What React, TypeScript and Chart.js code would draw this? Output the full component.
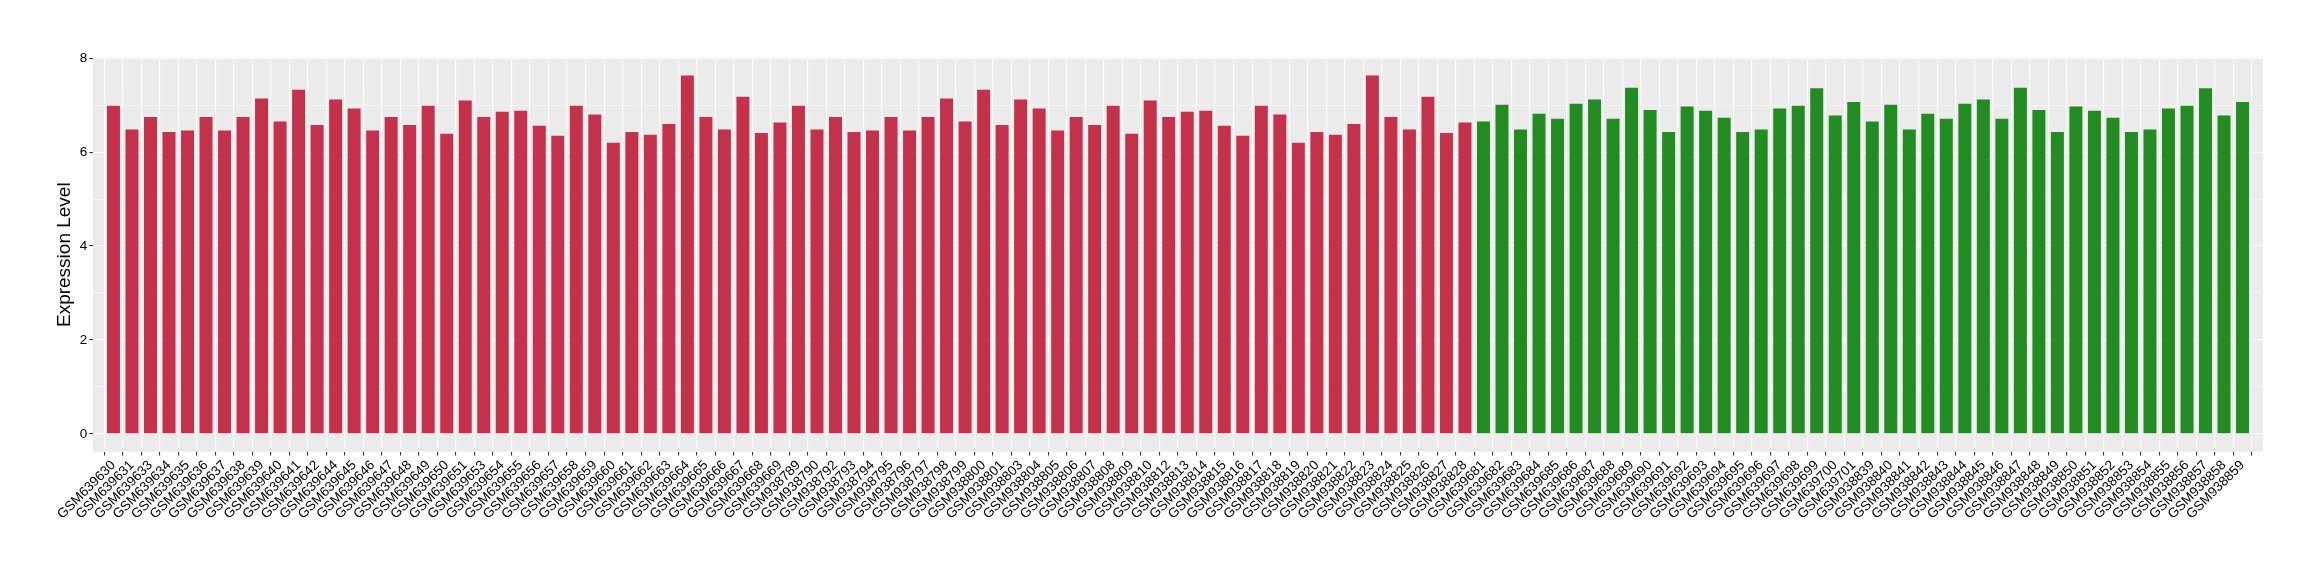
import React, { useEffect, useRef } from "react";
import { Chart, registerables } from "chart.js";

Chart.register(...registerables);

// ---- Data ----
const redSamplesA = [
  "GSM639630", "GSM639631", "GSM639633", "GSM639634", "GSM639635", "GSM639636", "GSM639637", "GSM639638",
  "GSM639639", "GSM639640", "GSM639641", "GSM639642", "GSM639644", "GSM639645", "GSM639646", "GSM639647",
  "GSM639648", "GSM639649", "GSM639650", "GSM639651", "GSM639653", "GSM639654", "GSM639655", "GSM639656",
  "GSM639657", "GSM639658", "GSM639659", "GSM639660", "GSM639661", "GSM639662", "GSM639663", "GSM639664",
  "GSM639665", "GSM639666", "GSM639667", "GSM639668", "GSM639669",
];
const redValuesA = [
  6.99, 6.48, 6.75, 6.43, 6.46, 6.75, 6.46, 6.75, 7.14, 6.65,
  7.33, 6.58, 7.12, 6.93, 6.46, 6.75, 6.58, 6.99, 6.39, 7.10,
  6.75, 6.86, 6.88, 6.56, 6.35, 6.99, 6.80, 6.20, 6.43, 6.37,
  6.60, 7.63, 6.75, 6.48, 7.18, 6.41, 6.63,
];
const redSamplesB = [
  "GSM938789", "GSM938790", "GSM938792", "GSM938793", "GSM938794", "GSM938795", "GSM938796", "GSM938797",
  "GSM938798", "GSM938799", "GSM938800", "GSM938801", "GSM938803", "GSM938804", "GSM938805", "GSM938806",
  "GSM938807", "GSM938808", "GSM938809", "GSM938810", "GSM938812", "GSM938813", "GSM938814", "GSM938815",
  "GSM938816", "GSM938817", "GSM938818", "GSM938819", "GSM938820", "GSM938821", "GSM938822", "GSM938823",
  "GSM938824", "GSM938825", "GSM938826", "GSM938827", "GSM938828",
];
const redValuesB = [
  6.99, 6.48, 6.75, 6.43, 6.46, 6.75, 6.46, 6.75, 7.14, 6.65,
  7.33, 6.58, 7.12, 6.93, 6.46, 6.75, 6.58, 6.99, 6.39, 7.10,
  6.75, 6.86, 6.88, 6.56, 6.35, 6.99, 6.80, 6.20, 6.43, 6.37,
  6.60, 7.63, 6.75, 6.48, 7.18, 6.41, 6.63,
];
const greenSamplesA = [
  "GSM639681", "GSM639682", "GSM639683", "GSM639684", "GSM639685", "GSM639686", "GSM639687",
  "GSM639688", "GSM639689", "GSM639690", "GSM639691", "GSM639692", "GSM639693", "GSM639694",
  "GSM639695", "GSM639696", "GSM639697", "GSM639698", "GSM639699", "GSM639700", "GSM639701",
];
const greenValuesA = [
  6.65, 7.01, 6.48, 6.82, 6.71, 7.03, 7.12, 6.71, 7.37, 6.90, 6.43,
  6.97, 6.88, 6.73, 6.43, 6.48, 6.93, 6.99, 7.36, 6.78, 7.07,
];
const greenSamplesB = [
  "GSM938839", "GSM938840", "GSM938841", "GSM938842", "GSM938843", "GSM938844", "GSM938845",
  "GSM938846", "GSM938847", "GSM938848", "GSM938849", "GSM938850", "GSM938851", "GSM938852",
  "GSM938853", "GSM938854", "GSM938855", "GSM938856", "GSM938857", "GSM938858", "GSM938859",
];
const greenValuesB = [
  6.65, 7.01, 6.48, 6.82, 6.71, 7.03, 7.12, 6.71, 7.37, 6.90, 6.43,
  6.97, 6.88, 6.73, 6.43, 6.48, 6.93, 6.99, 7.36, 6.78, 7.07,
];
const yTickValues = [0, 1, 2, 3, 4, 5, 6, 7, 8];
const yMajorTicks = [0, 2, 4, 6, 8];
const yTitle = "Expression Level";

const RED = "#C4314B";
const GREEN = "#228B22";
const PANEL = "#EBEBEB";
const FONT = "'Liberation Sans', Arial, Helvetica, sans-serif";

const panelBackground = {
  id: "panelBackground",
  beforeDraw(chart: any) {
    const { ctx, chartArea: a } = chart;
    ctx.save();
    ctx.fillStyle = PANEL;
    ctx.fillRect(a.left, a.top, a.right - a.left, a.bottom - a.top);
    ctx.restore();
  },
};

export default function App() {
  const ref = useRef<HTMLCanvasElement>(null);

  useEffect(() => {
    const labels = [...redSamplesA, ...redSamplesB, ...greenSamplesA, ...greenSamplesB];
    const values = [...redValuesA, ...redValuesB, ...greenValuesA, ...greenValuesB];
    const colors = [
      ...redSamplesA.map(() => RED),
      ...redSamplesB.map(() => RED),
      ...greenSamplesA.map(() => GREEN),
      ...greenSamplesB.map(() => GREEN),
    ];
    const n = labels.length;
    const yMax = Math.max(...values);
    const pad = yMax * 0.05;

    const chart = new Chart(ref.current!, {
      type: "bar",
      data: {
        datasets: [
          {
            data: values.map((v, i) => ({ x: i, y: v })),
            backgroundColor: colors,
            borderWidth: 0,
            barPercentage: 0.7,
            categoryPercentage: 1,
          },
        ],
      },
      plugins: [panelBackground],
      options: {
        animation: false,
        responsive: false,
        devicePixelRatio: 1,
        layout: { padding: { left: 0, right: 57, top: 57.7, bottom: 0 } },
        plugins: {
          legend: { display: false },
          tooltip: { enabled: false },
        },
        scales: {
          x: {
            type: "linear",
            min: -0.6,
            max: n - 1 + 0.6,
            afterBuildTicks: (scale: any) => {
              scale.ticks = labels.map((_, i) => ({ value: i }));
            },
            afterFit: (scale: any) => {
              scale.height = 580 - 451.7;
            },
            border: { display: false },
            grid: {
              color: "#FFFFFF",
              lineWidth: 1.1,
              drawTicks: true,
              tickLength: 3.7,
              tickColor: "#333333",
              tickWidth: 1.1,
            },
            ticks: {
              autoSkip: false,
              minRotation: 45,
              maxRotation: 45,
              padding: 2,
              color: "#000000",
              font: { family: FONT, size: 13.5 },
              callback: (v: any) => labels[v as number] ?? "",
            },
          },
          y: {
            type: "linear",
            min: -pad,
            max: yMax + pad,
            afterBuildTicks: (scale: any) => {
              scale.ticks = yTickValues.map((v) => ({ value: v }));
            },
            afterFit: (scale: any) => {
              scale.width = 93;
            },
            border: { display: false },
            grid: {
              color: "#FFFFFF",
              lineWidth: (ctx: any) => (yMajorTicks.includes(ctx.tick?.value) ? 1.1 : 0.55),
              drawTicks: true,
              tickLength: 3.7,
              tickColor: (ctx: any) => (yMajorTicks.includes(ctx.tick?.value) ? "#333333" : "rgba(0,0,0,0)"),
              tickWidth: 1.1,
            },
            ticks: {
              padding: 2,
              color: "#000000",
              font: { family: FONT, size: 13.5 },
              callback: (v: any) => (yMajorTicks.includes(v as number) ? String(v) : ""),
            },
            title: {
              display: true,
              text: yTitle,
              color: "#000000",
              font: { family: FONT, size: 19 },
              padding: { top: 53.6, bottom: 0 },
            },
          },
        },
      },
    } as any);
    return () => chart.destroy();
  }, []);

  return (
    <div style={{ position: "fixed", left: 0, top: 0, width: 2320, height: 580, background: "#FFFFFF" }}>
      <canvas ref={ref} width={2320} height={580} style={{ display: "block" }} />
    </div>
  );
}
